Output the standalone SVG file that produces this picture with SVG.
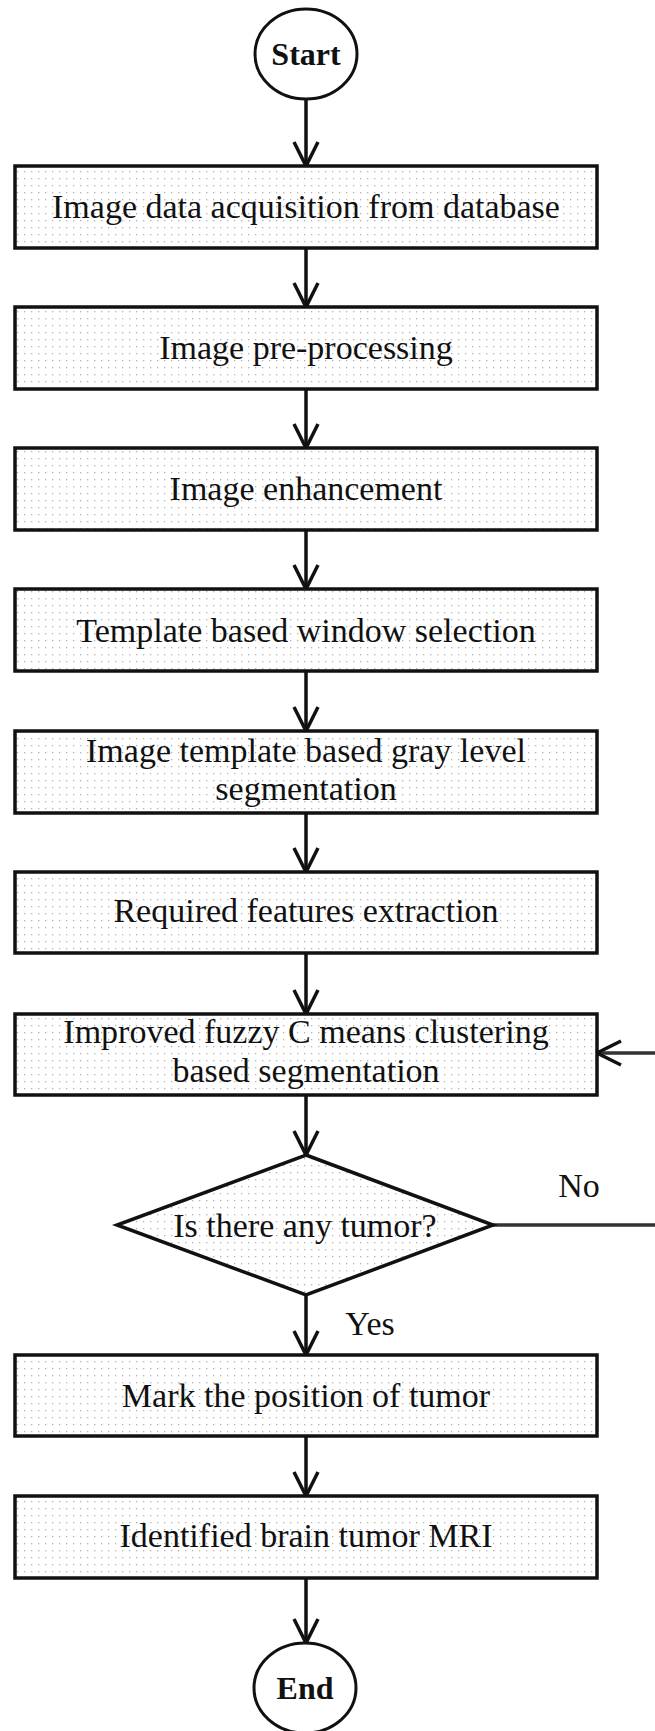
<svg xmlns="http://www.w3.org/2000/svg" width="655" height="1731" viewBox="0 0 655 1731">
<style>
.box{fill:url(#dots);stroke:#111;stroke-width:3.5}
.term{fill:#fff;stroke:#111;stroke-width:3}
.t{font-family:"Liberation Serif","Times New Roman",serif;font-size:34px;fill:#111;text-anchor:middle}
.tb{font-family:"Liberation Serif","Times New Roman",serif;font-size:32px;font-weight:bold;fill:#111;text-anchor:middle}
.c{fill:none;stroke:#111;stroke-width:3.5;marker-end:url(#arr)}
.cg{fill:none;stroke:#333;stroke-width:3.5;marker-end:url(#arr)}
</style>
<defs>
<pattern id="dots" width="7" height="7" patternUnits="userSpaceOnUse">
<rect width="7" height="7" fill="#fff"/>
<rect x="3" y="3" width="1.3" height="1.3" fill="#b4b4b4"/>
</pattern>
<marker id="arr" markerUnits="userSpaceOnUse" viewBox="-28 -16 32 32" refX="0" refY="0" markerWidth="32" markerHeight="32" orient="auto">
<path d="M-24,-12 L0,0 L-24,12" fill="none" stroke="#111" stroke-width="3.5"/>
</marker>
</defs>
<rect width="655" height="1731" fill="#fff"/>

<g id="connectors">
<path class="c" d="M306,99 V166"/>
<path class="c" d="M306,248 V307"/>
<path class="c" d="M306,389 V448"/>
<path class="c" d="M306,530 V589"/>
<path class="c" d="M306,671 V731"/>
<path class="c" d="M306,813 V872"/>
<path class="c" d="M306,953 V1014"/>
<path class="c" d="M306,1095 V1155"/>
<path class="c" d="M306,1295 V1355"/>
<path class="c" d="M306,1436 V1496"/>
<path class="c" d="M306,1578 V1643"/>
<path class="cg" d="M493,1225 H662 V1053 H597"/>
<text class="t" x="579" y="1197" font-size="32">No</text>
<text class="t" x="370" y="1335">Yes</text>
</g>

<g id="start">
<ellipse class="term" cx="306" cy="54" rx="51" ry="45"/>
<text class="tb" x="306" y="65">Start</text>
</g>

<g id="n1">
<rect class="box" x="15" y="166" width="582" height="82"/>
<text class="t" x="306" y="218">Image data acquisition from database</text>
</g>

<g id="n2">
<rect class="box" x="15" y="307" width="582" height="82"/>
<text class="t" x="306" y="359">Image pre-processing</text>
</g>

<g id="n3">
<rect class="box" x="15" y="448" width="582" height="82"/>
<text class="t" x="306" y="500">Image enhancement</text>
</g>

<g id="n4">
<rect class="box" x="15" y="589" width="582" height="82"/>
<text class="t" x="306" y="642">Template based window selection</text>
</g>

<g id="n5">
<rect class="box" x="15" y="731" width="582" height="82"/>
<text class="t" x="306" y="762">Image template based gray level</text>
<text class="t" x="306" y="800">segmentation</text>
</g>

<g id="n6">
<rect class="box" x="15" y="872" width="582" height="81"/>
<text class="t" x="306" y="922">Required features extraction</text>
</g>

<g id="n7">
<rect class="box" x="15" y="1014" width="582" height="81"/>
<text class="t" x="306" y="1043">Improved fuzzy C means clustering</text>
<text class="t" x="306" y="1082">based segmentation</text>
</g>

<g id="decision">
<polygon class="box" points="306,1155 493,1225 306,1295 117,1225"/>
<text class="t" x="305" y="1237">Is there any tumor?</text>
</g>

<g id="n8">
<rect class="box" x="15" y="1355" width="582" height="81"/>
<text class="t" x="306" y="1407">Mark the position of tumor</text>
</g>

<g id="n9">
<rect class="box" x="15" y="1496" width="582" height="82"/>
<text class="t" x="306" y="1547">Identified brain tumor MRI</text>
</g>

<g id="end">
<ellipse class="term" cx="305" cy="1688" rx="51" ry="45"/>
<text class="tb" x="305" y="1699">End</text>
</g>
</svg>
